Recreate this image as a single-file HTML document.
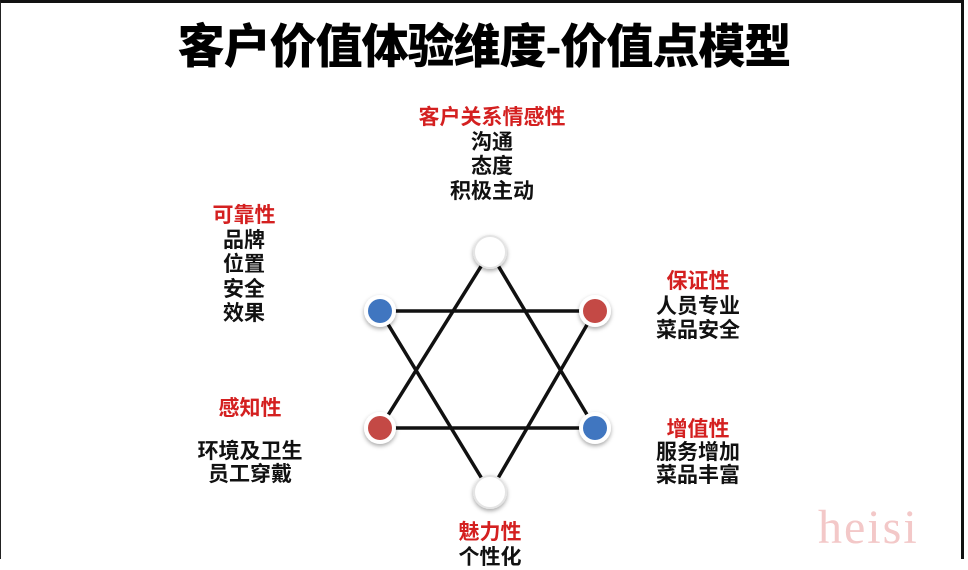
<!DOCTYPE html>
<html><head><meta charset="utf-8"><style>
body{margin:0;width:968px;height:559px;overflow:hidden;background:#fff;font-family:"Liberation Sans","Noto Sans CJK SC",sans-serif;}
.frame{position:absolute;left:0;top:0;width:964px;height:559px;border-top:3px solid #111;border-left:1px solid #222;border-right:3px solid #111;box-sizing:border-box;}
.t{position:absolute;font-weight:bold;text-align:center;font-size:21px;line-height:24.5px;color:#111;}
.r{color:#d42020;}
h1{position:absolute;left:0;width:968px;top:8px;margin:0;text-align:center;font-size:47px;font-weight:900;letter-spacing:-1px;color:#000;}
</style></head><body>
<div class="frame"></div>
<h1>客户价值体验维度-价值点模型</h1>
<svg width="968" height="559" style="position:absolute;left:0;top:0">
<defs><filter id="s" x="-50%" y="-50%" width="200%" height="200%"><feDropShadow dx="0" dy="2" stdDeviation="2" flood-color="#000" flood-opacity="0.35"/></filter></defs>
<g stroke="#111" stroke-width="3.5" fill="none">
<polygon points="490,252 380,428 595,428"/>
<polygon points="380,311 595,311 490,492"/>
</g>
<g filter="url(#s)">
<circle cx="490" cy="252" r="16" fill="#fff" stroke="#e4e4e4" stroke-width="2"/>
<circle cx="490" cy="492" r="16" fill="#fff" stroke="#e4e4e4" stroke-width="2"/>
<circle cx="380" cy="311" r="16" fill="#fff"/><circle cx="380" cy="311" r="12" fill="#3f76c0"/>
<circle cx="595" cy="311" r="16" fill="#fff"/><circle cx="595" cy="311" r="12" fill="#c44844"/>
<circle cx="380" cy="428" r="16" fill="#fff"/><circle cx="380" cy="428" r="12" fill="#c44844"/>
<circle cx="595" cy="428" r="16" fill="#fff"/><circle cx="595" cy="428" r="12" fill="#3f76c0"/>
</g>
</svg>
<div class="t" style="left:392px;width:200px;top:106px"><span class="r">客户关系情感性</span><br>沟通<br>态度<br>积极主动</div>
<div class="t" style="left:164px;width:160px;top:204px"><span class="r">可靠性</span><br>品牌<br>位置<br>安全<br>效果</div>
<div class="t" style="left:618px;width:160px;top:270px"><span class="r">保证性</span><br>人员专业<br>菜品安全</div>
<div class="t" style="left:170px;width:160px;top:397px"><span class="r">感知性</span></div>
<div class="t" style="left:170px;width:160px;top:440px;line-height:23px">环境及卫生<br>员工穿戴</div>
<div class="t" style="left:618px;width:160px;top:418px;line-height:23px"><span class="r">增值性</span><br>服务增加<br>菜品丰富</div>
<div class="t" style="left:410px;width:160px;top:521px"><span class="r">魅力性</span><br>个性化</div>
<div style="position:absolute;left:818px;top:500px;font-family:'Liberation Serif',serif;font-size:48px;color:#f3c8c8;letter-spacing:2px">heisi</div>
</body></html>
